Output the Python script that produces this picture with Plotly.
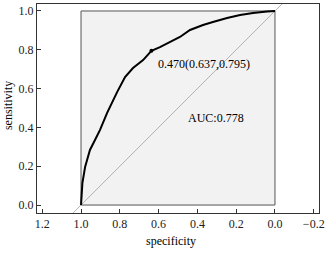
import plotly.graph_objects as go

# ROC curve
specificity = [1.0, 0.993, 0.979, 0.954, 0.928, 0.902, 0.866, 0.835, 0.814, 0.773,
               0.732, 0.680, 0.637, 0.593, 0.541, 0.490, 0.438, 0.371, 0.320, 0.247,
               0.180, 0.113, 0.041, 0.0]
sensitivity = [0.0, 0.113, 0.196, 0.284, 0.335, 0.387, 0.474, 0.541, 0.582, 0.660,
               0.706, 0.747, 0.795, 0.814, 0.840, 0.866, 0.902, 0.928, 0.943, 0.964,
               0.979, 0.990, 0.997, 1.0]
best_threshold = 0.470
best_spec = 0.637
best_sens = 0.795
auc_value = 0.778

tick_vals_x = [1.2, 1.0, 0.8, 0.6, 0.4, 0.2, 0.0, -0.2]
tick_vals_y = [0.0, 0.2, 0.4, 0.6, 0.8, 1.0]

x_range = [1.227, -0.227]
y_range = [-0.041, 1.036]

FONT = "Liberation Serif, Times New Roman, serif"

fig = go.Figure()

fig.add_trace(go.Scatter(
    x=specificity, y=sensitivity, mode="lines",
    line=dict(color="black", width=2), hoverinfo="skip", showlegend=False))

fig.add_trace(go.Scatter(
    x=[best_spec], y=[best_sens], mode="markers",
    marker=dict(color="black", size=4), showlegend=False))

# inner gray box (specificity 1..0, sensitivity 0..1)
fig.add_shape(type="rect", x0=1, x1=0, y0=0, y1=1, xref="x", yref="y",
              fillcolor="#f2f2f2", line=dict(color="#555555", width=1), layer="below")

# diagonal reference line across the plot area
fig.add_shape(type="line", xref="x", yref="y",
              x0=1 - y_range[0], y0=y_range[0], x1=1 - y_range[1], y1=y_range[1],
              line=dict(color="#b4b4b4", width=1), layer="below")

fig.add_annotation(x=best_spec, y=best_sens, xref="x", yref="y",
                   text=f"{best_threshold:.3f}({best_spec:.3f},{best_sens:.3f})",
                   showarrow=False, xanchor="left", yanchor="middle",
                   xshift=5, yshift=-13, font=dict(family=FONT, size=12, color="black"))

fig.add_annotation(x=0.302, y=0.448, xref="x", yref="y",
                   text=f"AUC:{auc_value:.3f}", showarrow=False,
                   xanchor="center", yanchor="middle",
                   font=dict(family=FONT, size=12, color="black"))

fig.add_annotation(x=0.536, y=0, xref="x", yref="paper", text="specificity",
                   showarrow=False, xanchor="center", yanchor="middle", yshift=-28,
                   font=dict(family=FONT, size=12, color="black"))

fig.add_annotation(x=0, y=0.51, xref="paper", yref="y", text="sensitivity",
                   showarrow=False, xanchor="center", yanchor="middle", xshift=-29,
                   textangle=-90, font=dict(family=FONT, size=12, color="black"))

axis_common = dict(showgrid=False, zeroline=False, showline=True, mirror=True,
                   linecolor="#333333", linewidth=1, ticks="inside", ticklen=4,
                   tickcolor="#333333", automargin=False,
                   tickfont=dict(family=FONT, size=12, color="#222222"))

fig.update_xaxes(range=x_range, tickvals=tick_vals_x,
                 ticktext=[f"{v:.1f}".replace("-", "\u2212") for v in tick_vals_x],
                 **axis_common)
fig.update_yaxes(range=y_range, tickvals=tick_vals_y,
                 ticktext=[f"{v:.1f}" for v in tick_vals_y], **axis_common)

fig.update_layout(template="none", width=330, height=256,
                  margin=dict(l=37, r=11, t=4, b=43, autoexpand=False),
                  plot_bgcolor="white", paper_bgcolor="white", showlegend=False)

fig.write_html("out.html", config={"displayModeBar": False},
               post_script="document.body.style.margin='0';document.body.style.overflow='hidden';")
